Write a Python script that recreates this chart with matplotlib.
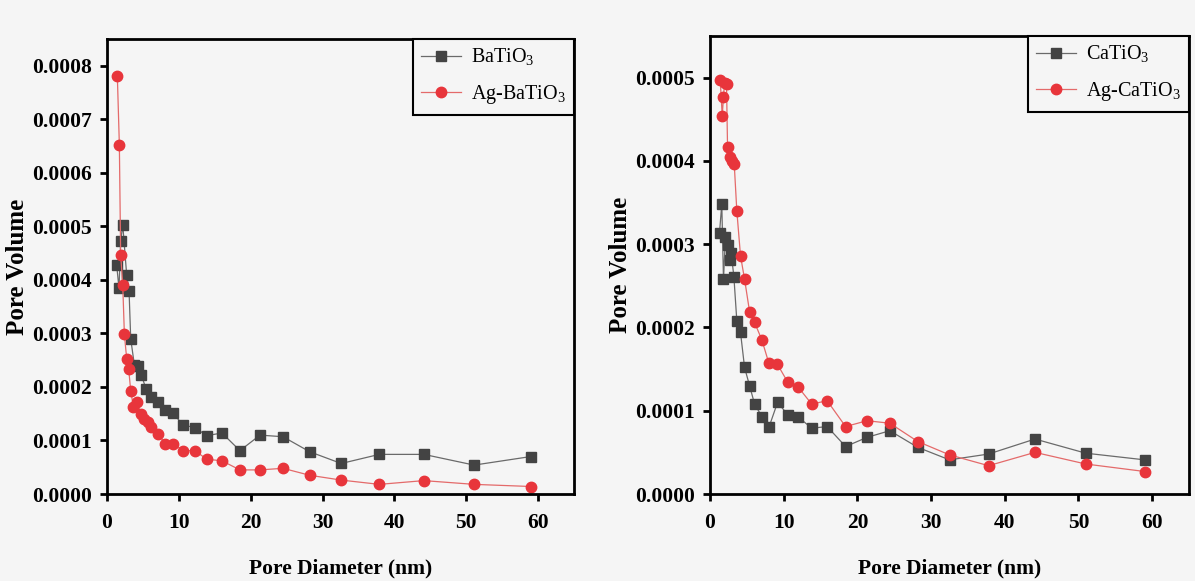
import matplotlib
matplotlib.use("Agg")
import matplotlib.pyplot as plt
from matplotlib.ticker import MultipleLocator, FormatStrFormatter

plt.rcParams['font.family'] = ['Liberation Serif', 'DejaVu Serif']
plt.rcParams['mathtext.fontset'] = 'custom'
plt.rcParams['mathtext.rm'] = 'Liberation Serif'

# ---- Left panel data (BaTiO3 / Ag-BaTiO3) ----
ba_d = [1.35, 1.67, 1.9, 2.19, 2.74, 3.07, 3.3, 3.81, 4.28, 4.79, 5.44, 6.18, 7.07, 8.14,
        9.16, 10.6, 12.2, 13.9, 16.0, 18.5, 21.3, 24.5, 28.2, 32.6, 37.9, 44.1, 51.1, 59.0]
ba_v = [4.27, 3.84, 4.72, 5.03, 4.09, 3.80, 2.90, 2.41, 2.39, 2.22, 1.96, 1.81, 1.72, 1.57,
        1.51, 1.29, 1.24, 1.09, 1.14, 0.81, 1.10, 1.07, 0.79, 0.57, 0.74, 0.74, 0.54, 0.70]
agba_d = [1.44, 1.72, 1.9, 2.19, 2.42, 2.74, 3.02, 3.3, 3.67, 4.14, 4.79, 5.2, 5.67, 6.14, 7.07,
          8.14, 9.25, 10.6, 12.2, 13.9, 16.0, 18.5, 21.3, 24.5, 28.2, 32.6, 37.9, 44.1, 51.1, 59.0]
agba_v = [7.81, 6.52, 4.47, 3.91, 2.98, 2.53, 2.33, 1.93, 1.63, 1.71, 1.49, 1.40, 1.35, 1.26, 1.12,
          0.94, 0.94, 0.81, 0.81, 0.65, 0.62, 0.45, 0.45, 0.48, 0.35, 0.26, 0.18, 0.25, 0.18, 0.14]

# ---- Right panel data (CaTiO3 / Ag-CaTiO3) ----
ca_d = [1.29, 1.6, 1.83, 2.1, 2.38, 2.65, 2.88, 3.24, 3.64, 4.14, 4.69, 5.37, 6.05, 7.04, 7.99,
        9.17, 10.57, 11.9, 13.8, 15.9, 18.4, 21.3, 24.4, 28.2, 32.5, 37.8, 44.1, 51.0, 59.0]
ca_v = [3.14, 3.48, 2.58, 3.09, 2.99, 2.81, 2.89, 2.61, 2.08, 1.94, 1.52, 1.30, 1.08, 0.93, 0.80,
        1.10, 0.95, 0.93, 0.79, 0.81, 0.57, 0.68, 0.76, 0.56, 0.41, 0.48, 0.66, 0.49, 0.41]
agca_d = [1.39, 1.66, 1.83, 1.97, 2.24, 2.38, 2.69, 3.02, 3.29, 3.64, 4.14, 4.69, 5.37, 6.05, 7.04,
          7.99, 9.13, 10.57, 12.0, 13.8, 15.9, 18.4, 21.3, 24.4, 28.2, 32.5, 37.8, 44.1, 51.0, 59.0]
agca_v = [4.97, 4.54, 4.77, 4.94, 4.92, 4.17, 4.05, 4.00, 3.96, 3.40, 2.86, 2.58, 2.19, 2.06, 1.85,
          1.57, 1.56, 1.34, 1.28, 1.08, 1.12, 0.81, 0.88, 0.85, 0.63, 0.47, 0.34, 0.50, 0.36, 0.27]

labels_left = ['BaTiO$_\\mathregular{3}$', 'Ag-BaTiO$_\\mathregular{3}$']
labels_right = ['CaTiO$_\\mathregular{3}$', 'Ag-CaTiO$_\\mathregular{3}$']
xlabel = 'Pore Diameter (nm)'
ylabel = 'Pore Volume'

BG = '#f5f5f5'
GRAY_M = '#434343'
GRAY_L = '#6a6a6a'
RED_M = '#e8353b'
RED_L = '#e46a6a'

fig = plt.figure(figsize=(11.95, 5.81), dpi=100, facecolor=BG)
ax1 = fig.add_axes([107/1195, 87/581, (574-107)/1195, (494-39)/581])
ax2 = fig.add_axes([710/1195, 87/581, (1189-710)/1195, (494-36)/581])


def style(ax, d1, v1, d2, v2, labels, ymax, ystep):
    ax.set_facecolor(BG)
    ax.plot(d1, [v * 1e-4 for v in v1], '-s', color=GRAY_L, lw=0.9, ms=7,
            mfc=GRAY_M, mec=GRAY_M, label=labels[0])
    ax.plot(d2, [v * 1e-4 for v in v2], '-o', color=RED_L, lw=0.9, ms=7.5,
            mfc=RED_M, mec=RED_M, label=labels[1])
    ax.set_xlim(0, 65)
    ax.set_ylim(0, ymax)
    ax.xaxis.set_major_locator(MultipleLocator(10))
    ax.yaxis.set_major_locator(MultipleLocator(ystep))
    ax.yaxis.set_major_formatter(FormatStrFormatter('%.4f'))
    for s in ax.spines.values():
        s.set_linewidth(2.0)
    ax.tick_params(direction='out', length=5, width=2, labelsize=15.5, pad=6)
    ax.tick_params(axis='x', pad=9)
    for t in ax.get_xticklabels() + ax.get_yticklabels():
        t.set_fontweight('bold')
    ax.set_xlabel(xlabel, fontsize=15.5, fontweight='bold', labelpad=18)
    ax.set_ylabel(ylabel, fontsize=18, fontweight='bold', labelpad=2)
    leg = ax.legend(loc='upper right', borderaxespad=0, fontsize=14.5, handlelength=2.0,
                    handletextpad=0.5, labelspacing=0.75, fancybox=False, framealpha=1,
                    edgecolor='black', facecolor=BG, borderpad=0.4)
    leg.get_frame().set_linewidth(1.5)


style(ax1, ba_d, ba_v, agba_d, agba_v, labels_left, 0.00085, 0.0001)
style(ax2, ca_d, ca_v, agca_d, agca_v, labels_right, 0.00055, 0.0001)

fig.savefig('out.png', dpi=100, facecolor=BG)
